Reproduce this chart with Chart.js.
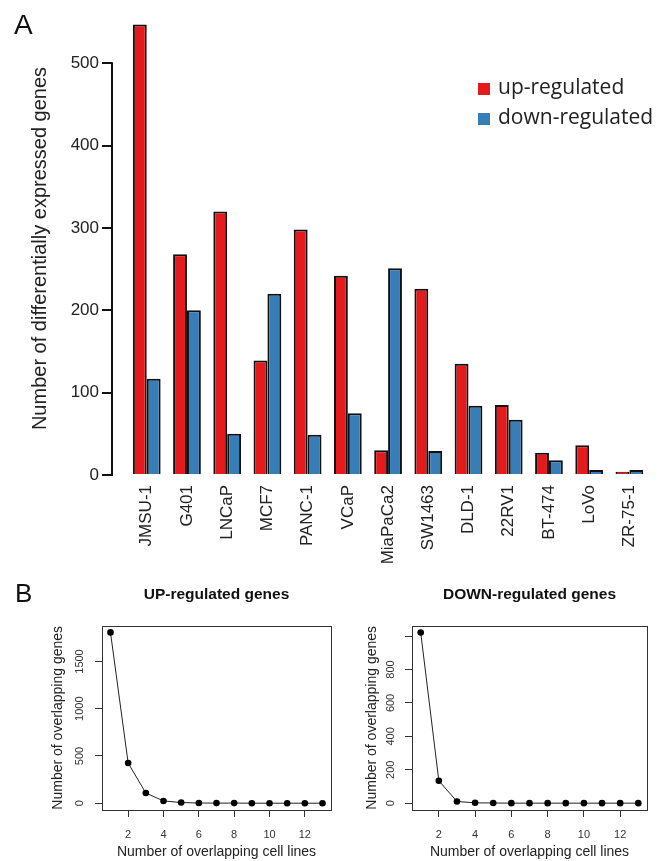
<!DOCTYPE html>
<html>
<head>
<meta charset="utf-8">
<script src="https://cdn.jsdelivr.net/npm/chart.js@4/dist/chart.umd.min.js"></script>
<style>
  body { margin: 0; background: #fff; width: 660px; height: 861px; position: relative; overflow: hidden;
         font-family: "Liberation Sans", Arial, sans-serif; }
  canvas { position: absolute; }
  .panel { position: absolute; line-height: 28px; color: #111; }
  .leg { position: absolute; font-family: "Open Sans", sans-serif; font-size: 21px; line-height: 24px; color: #222; white-space: nowrap; }
  .sw { position: absolute; width: 12px; height: 12px; }
</style>
</head>
<body>
<canvas id="chartA" width="660" height="570" style="left:0;top:0"></canvas>
<canvas id="chartUp" width="335" height="286" style="left:0;top:575px"></canvas>
<canvas id="chartDown" width="325" height="286" style="left:335px;top:575px"></canvas>

<div class="panel" style="left:14px;top:11px;font-size:28px">A</div>
<div class="panel" style="left:15px;top:579px;font-size:26px">B</div>

<div class="sw" style="left:478px;top:83px;background:#E41A1C"></div>
<div class="leg" style="left:498px;top:74px">up-regulated</div>
<div class="sw" style="left:478px;top:113px;background:#377EB8"></div>
<div class="leg" style="left:498px;top:104px">down-regulated</div>

<script>
// --- data ---
const cellLines = ["JMSU-1", "G401", "LNCaP", "MCF7", "PANC-1", "VCaP", "MiaPaCa2",
                   "SW1463", "DLD-1", "22RV1", "BT-474", "LoVo", "ZR-75-1"];
const upRegulated   = [547, 268, 320, 139, 298, 242, 30, 226, 135, 85, 27, 36, 4];
const downRegulated = [117, 200, 50, 220, 49, 75, 251, 29, 84, 67, 18, 6, 6];
const geneTicks = [0, 100, 200, 300, 400, 500];

const overlapCellLines = [1, 2, 3, 4, 5, 6, 7, 8, 9, 10, 11, 12, 13];
const overlapUp   = [1808, 425, 108, 24, 7, 2, 1, 1, 0, 0, 0, 0, 0];
const overlapDown = [1022, 134, 10, 2, 1, 0, 0, 0, 0, 0, 0, 0, 0];
const overlapXTicks = [2, 4, 6, 8, 10, 12];
const upYTicks = [0, 500, 1000, 1500];
const upYLabels = ["0", "500", "1000", "1500"];
const downYTicks = [0, 200, 400, 600, 800, 1000];
const downYLabels = ["0", "200", "400", "600", "800", ""];

Chart.defaults.font.family = '"Liberation Sans", Arial, sans-serif';
Chart.defaults.color = "#222";

function get(id) { return document.getElementById(id); }

// R-style y axis line: only from first to last tick
const yAxisLine = {
    id: "yAxisLine",
    afterDraw(chart) {
        const y = chart.scales.y, ctx = chart.ctx, x = chart.chartArea.left;
        ctx.save();
        ctx.strokeStyle = "#111";
        ctx.lineWidth = 2;
        ctx.beginPath();
        ctx.moveTo(x, y.getPixelForValue(geneTicks[0]) + 1);
        ctx.lineTo(x, y.getPixelForValue(geneTicks[geneTicks.length - 1]) - 1);
        ctx.stroke();
        ctx.restore();
    }
};

// box around plot region
const boxPlugin = {
    id: "box",
    afterDraw(chart) {
        const a = chart.chartArea, ctx = chart.ctx;
        ctx.save();
        ctx.strokeStyle = "#333";
        ctx.lineWidth = 1;
        ctx.strokeRect(Math.round(a.left) + 0.5, Math.round(a.top) + 0.5,
                       Math.round(a.right - a.left), Math.round(a.bottom - a.top));
        ctx.restore();
    }
};

// --- A: bar chart ---
new Chart(get("chartA"), {
    type: "bar",
    data: {
        datasets: [
            { label: "up-regulated", data: upRegulated.map((v, i) => ({ x: i, y: v })),
              backgroundColor: "#E41A1C", borderColor: "#111", borderWidth: 2,
              categoryPercentage: 0.69, barPercentage: 1 },
            { label: "down-regulated", data: downRegulated.map((v, i) => ({ x: i, y: v })),
              backgroundColor: "#377EB8", borderColor: "#111", borderWidth: 2,
              categoryPercentage: 0.69, barPercentage: 1 }
        ]
    },
    options: {
        responsive: false,
        animation: false,
        layout: { padding: { top: 22, right: 5, left: 0, bottom: 0 } },
        plugins: { legend: { display: false }, tooltip: { enabled: false } },
        scales: {
            x: {
                type: "linear", offset: false, min: -0.864, max: 12.543,
                afterBuildTicks: s => { s.ticks = cellLines.map((c, i) => ({ value: i })); },
                afterFit: s => { s.height = 95; },
                grid: { display: false, drawTicks: false },
                border: { display: false },
                ticks: { autoSkip: false, minRotation: 90, maxRotation: 90, padding: 10,
                         font: { size: 17 }, color: "#222", callback: v => cellLines[v] }
            },
            y: {
                min: 0, max: 550,
                afterBuildTicks: s => { s.ticks = geneTicks.map(v => ({ value: v })); },
                afterFit: s => { s.width = 112; },
                border: { display: false },
                grid: { drawOnChartArea: false, tickLength: 10, lineWidth: 2, color: "#111" },
                ticks: { padding: 3, font: { size: 17 }, color: "#222" },
                title: { display: true, text: "Number of differentially expressed genes",
                         font: { size: 20 }, color: "#222", padding: { top: 28, bottom: 0 } }
            }
        }
    },
    plugins: [yAxisLine]
});

// --- B: overlap line charts ---
function overlapChart(id, title, values, yTicks, yLabels, yMin, yMax, axisWidth, padRight, titlePad, tickPad) {
    return new Chart(get(id), {
        type: "line",
        data: {
            datasets: [{
                data: values.map((v, i) => ({ x: overlapCellLines[i], y: v })),
                borderColor: "#222", borderWidth: 1,
                pointRadius: 3.3, pointBackgroundColor: "#000", pointBorderWidth: 0,
                tension: 0
            }]
        },
        options: {
            responsive: false,
            animation: false,
            layout: { padding: { top: 0, right: padRight, left: 0, bottom: 0 } },
            plugins: {
                legend: { display: false }, tooltip: { enabled: false },
                title: { display: true, text: title, fullSize: false, color: "#111",
                         font: { size: 15.5, weight: "bold" }, padding: { top: 10, bottom: 22 } }
            },
            scales: {
                x: {
                    type: "linear", min: 0.52, max: 13.48,
                    afterBuildTicks: s => { s.ticks = overlapXTicks.map(v => ({ value: v })); },
                    afterFit: s => { s.height = 51; },
                    border: { display: false },
                    grid: { drawOnChartArea: false, tickLength: 7, color: "#333" },
                    ticks: { padding: 11, font: { size: 11 }, color: "#333" },
                    title: { display: true, text: "Number of overlapping cell lines",
                             font: { size: 14 }, color: "#222", padding: { top: 0, bottom: 0 } }
                },
                y: {
                    min: yMin, max: yMax,
                    afterBuildTicks: s => { s.ticks = yTicks.map(v => ({ value: v })); },
                    afterFit: s => { s.width = axisWidth; },
                    border: { display: false },
                    grid: { drawOnChartArea: false, tickLength: 7, color: "#333" },
                    ticks: { padding: tickPad, minRotation: 90, maxRotation: 90, crossAlign: "center",
                             font: { size: 11 }, color: "#333",
                             callback: (v, i) => yLabels[i] },
                    title: { display: true, text: "Number of overlapping genes",
                             font: { size: 14 }, color: "#222", padding: { top: titlePad, bottom: 0 } }
                }
            }
        },
        plugins: [boxPlugin]
    });
}

overlapChart("chartUp", "UP-regulated genes", overlapUp, upYTicks, upYLabels, -72, 1880, 102, 4, 50, 2.5);
overlapChart("chartDown", "DOWN-regulated genes", overlapDown, downYTicks, downYLabels, -41, 1063, 77, 13, 28.6, 5);
</script>
</body>
</html>
